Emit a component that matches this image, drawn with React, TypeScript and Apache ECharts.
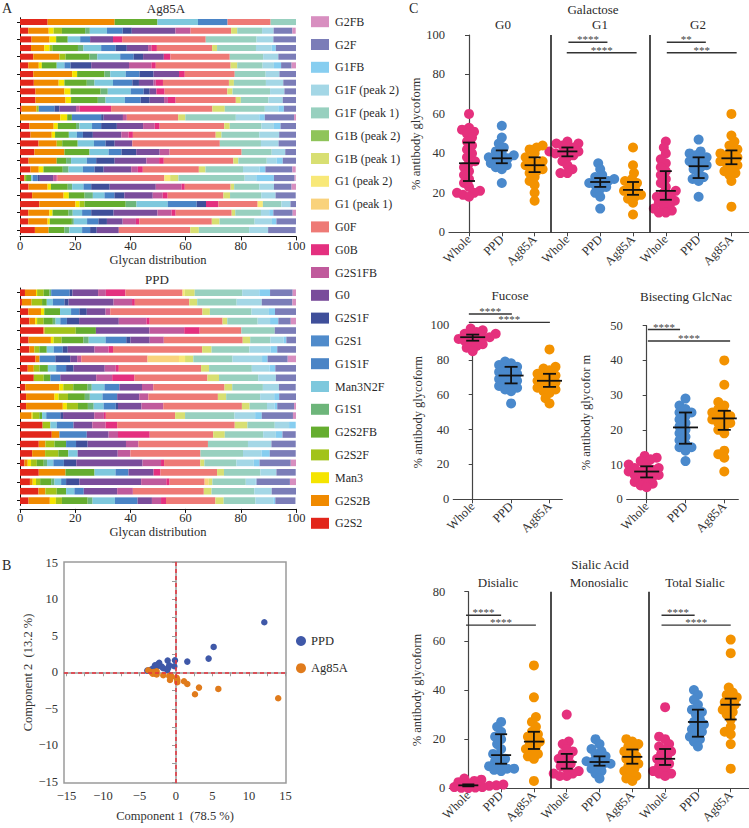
import React, { useEffect, useRef } from "react";
import * as echarts from "echarts";

const FONT = "'Liberation Serif', 'DejaVu Serif', serif";

// ---------- Panel A data ----------
const glycans = [
  "G2S2", "G2S2B", "Man3", "G2S2F", "G2S2FB", "G1S1", "Man3N2F", "G1S1F", "G2S1", "G2S1F",
  "G0", "G2S1FB", "G0B", "G0F", "G1 (peak 1)", "G1 (peak 2)", "G1B (peak 1)", "G1B (peak 2)",
  "G1F (peak 1)", "G1F (peak 2)", "G1FB", "G2F", "G2FB",
];
const glycanColors = [
  "#e2261b", "#f08a00", "#f5e400", "#a2c31a", "#65ad2f", "#6db57a", "#7ec8dd", "#4a84c6", "#4f8bcb", "#3f4f9a",
  "#7a4d9b", "#c05a9c", "#e4307f", "#ee7a76", "#f9d27c", "#f8e878", "#d8df72", "#8fc45a",
  "#98d0bf", "#a4d7e6", "#87cef0", "#7b7db8", "#d88fc0",
];

const ag85aBars: number[][] = [
  [10, 24.3, 0, 0, 15.5, 0, 14.7, 10.7, 0, 0, 0, 0, 0, 15.6, 0, 0, 0, 0, 9.2, 0, 0, 0, 0],
  [3, 7.4, 1.8, 3, 8.4, 1.7, 6.2, 5.7, 0, 3.3, 15.8, 5.5, 0, 14.7, 0, 0, 2.2, 0, 9, 4.2, 0, 6.8, 1.2],
  [4.2, 6.5, 2.4, 0, 4.2, 0, 4.5, 3.6, 0, 0, 8.3, 0, 3.3, 30.3, 0, 0, 0, 0, 18.4, 6.1, 0, 8.2, 0],
  [4, 4.8, 1.9, 1, 9.3, 2, 6.4, 5.2, 0, 4.1, 7.7, 1.2, 2, 20, 0, 0, 1.8, 0, 14.1, 5.7, 1.5, 7.3, 0],
  [4.8, 9.5, 0, 2.2, 8.7, 2.8, 8.3, 4.9, 0, 3.4, 7.5, 0, 2.4, 21.5, 0, 0, 0, 0, 12.1, 5.5, 0, 6.4, 0],
  [3, 3.8, 1.1, 0, 5.4, 0, 2.8, 2.2, 0, 7.5, 13.7, 8.1, 1.6, 27.1, 0, 0, 2.4, 0, 9.2, 4.1, 2.6, 3.8, 1.6],
  [4.8, 14.1, 1.8, 0, 9.9, 2.1, 5.6, 5, 0, 5.1, 9.2, 0, 2.1, 18.1, 0, 0, 0, 0, 11.2, 5, 0, 6, 0],
  [5, 9, 2.1, 0, 8.1, 2.8, 6.7, 7, 0, 2.4, 5.3, 0.8, 2.6, 23.9, 0, 0, 1.8, 0, 11.6, 6.3, 0, 4.6, 0],
  [5.6, 10.5, 2.2, 0, 10.9, 2.6, 8.3, 4.7, 0, 2.2, 2.4, 0, 3, 22.7, 0, 0, 1.9, 0, 13.6, 5.2, 0, 4.2, 0],
  [5.6, 10.9, 2, 0, 9.7, 2.8, 7, 5.7, 0, 3.3, 5.2, 1.4, 2.8, 21.8, 0, 0, 1.8, 0, 10, 5.2, 0, 4.8, 0],
  [0.6, 5.4, 0, 0.8, 0, 0, 0, 5.7, 0, 1.8, 6, 1.2, 11.5, 36.7, 0, 0, 4.5, 0, 14.5, 4.9, 2, 4.4, 0],
  [0, 14.6, 2.5, 0, 1.7, 0, 0, 10.6, 0, 0.9, 7, 1.4, 0, 18.6, 0, 0, 2.6, 0, 18.3, 8.5, 2, 10.6, 0.7],
  [3.4, 8.8, 1.5, 0, 6.6, 1.2, 4.6, 3.3, 0, 5.7, 9.5, 4.2, 1.8, 23.4, 0, 0, 2, 0, 11.5, 4.5, 2.4, 5.6, 0],
  [3.8, 7.7, 1.2, 0, 5, 0, 2.9, 2.2, 0, 3.6, 10.3, 2.6, 1.6, 30, 0, 0, 2.1, 0, 13.7, 7.2, 0, 6.1, 0],
  [6.7, 6.6, 0, 2, 5.6, 0, 5.9, 4.2, 0, 3.3, 6.4, 0, 0, 31.7, 0, 0, 0, 0, 14.9, 6.4, 0, 6.3, 0],
  [5.2, 10.9, 0, 0, 9.1, 0, 6.9, 4.7, 0, 5.3, 8.5, 3.6, 0, 26.1, 0, 0, 0, 0, 10.9, 4.9, 0, 3.9, 0],
  [3.1, 10.2, 0, 0, 3.4, 1.8, 5.7, 3.4, 0, 6.7, 11.5, 4.6, 1.7, 25.2, 0, 0, 1.8, 0, 10.3, 3.6, 2.2, 4.8, 0],
  [3.8, 3, 1.7, 0, 7, 2.1, 5.2, 4.2, 0, 3.3, 10, 2.4, 1.8, 20.3, 0, 0, 2.4, 0, 13.6, 6, 2.1, 9.8, 1.2],
  [1.6, 0, 0, 0.6, 1.8, 0, 0.6, 1.8, 0, 0.8, 4.8, 1.2, 0.4, 38.7, 0, 2.1, 3, 0, 24, 4.2, 6.4, 7.5, 0.4],
  [3.1, 6.9, 1.2, 0, 6.1, 1.6, 4.1, 2.8, 0, 6.7, 16.7, 9.3, 1.2, 16.6, 0, 0, 1.3, 0, 9.1, 5.3, 0, 6.4, 1.6],
  [4.4, 11.4, 1.9, 0, 5.7, 3, 4.2, 3.6, 0, 3.6, 10.3, 3.6, 1.8, 20.2, 0, 0, 2.4, 0, 11.3, 5.2, 0, 7.3, 0],
  [7, 13.1, 1.5, 1.8, 14.9, 3.9, 11.3, 10.5, 0, 3.4, 0, 0, 4.5, 14.2, 0, 1.9, 0, 0, 6.7, 3.3, 0, 2.2, 0],
  [3, 7.6, 1.2, 0, 5.8, 1.5, 3.4, 3.3, 0, 8.1, 15.9, 5.1, 1.5, 20.3, 0, 0, 1.3, 0, 9.3, 3, 1.5, 7, 1.2],
  [3, 7, 0.8, 0, 8, 0.7, 4.8, 4.1, 0, 3.1, 5.7, 4.8, 1.2, 26.3, 0, 0, 2.8, 0, 12.7, 6.3, 1.6, 7.1, 0],
  [5.4, 5, 0, 0, 5.7, 1.8, 4.6, 2.9, 0, 2.4, 8, 0, 0, 25.9, 0, 0, 3.1, 0, 18.2, 6.9, 0, 10, 0],
];

const ppdBars: number[][] = [
  [1.8, 4, 0.4, 2.4, 2.1, 0.6, 0, 6.7, 0, 1, 9.3, 2.8, 7.1, 20.7, 0, 0.8, 3.6, 0, 17.2, 6.2, 3.9, 8.2, 1.2],
  [0.7, 3.5, 0, 3.8, 1.7, 0, 2.2, 4.2, 0, 1.5, 16.3, 6.7, 1, 19.7, 0, 0, 2.9, 0, 14.3, 9.1, 0, 11.1, 1.3],
  [3, 4.6, 1.2, 0, 5.7, 0, 4, 3, 0, 2.7, 6.8, 1.7, 0, 33.4, 0, 0, 2.7, 0, 15.1, 6.3, 2.2, 7.6, 0],
  [3.4, 2.1, 0.7, 2.4, 3.3, 1, 1.7, 2.4, 0, 4.4, 14.4, 10, 1.2, 26.4, 0, 0, 1.7, 0, 11, 4.5, 3, 4.5, 1.9],
  [8.5, 0.4, 0, 11.3, 7.3, 0, 0, 0, 0, 0, 19.4, 12.6, 5.6, 15.1, 0, 0, 0, 0, 12.1, 0, 0, 7.9, 0],
  [3.1, 8.1, 1, 2.9, 7.9, 1.9, 6.1, 7.5, 0, 1.5, 7, 5.1, 0, 28.6, 0, 0, 2.7, 0, 7.3, 4.8, 1, 3.6, 0],
  [3.4, 1.8, 0, 1.8, 2.7, 0, 2.5, 3.3, 0, 1.8, 9.7, 5.1, 1.6, 32.3, 0, 0, 3.4, 0, 13.7, 7.7, 2.4, 6.8, 0],
  [5.6, 1.5, 0, 0, 0, 0, 0, 5.7, 0, 5.4, 2.5, 1.5, 0, 24, 11.4, 2.2, 3, 0, 14.2, 10.7, 2, 7.3, 3.1],
  [2.8, 2.2, 0, 2.1, 3, 0, 3, 3.6, 0, 2.7, 11.3, 4, 1.1, 29.8, 0, 0, 2.9, 0, 15.5, 6.4, 2.1, 7.6, 0],
  [5, 0, 0, 3.6, 2.4, 0, 0, 3.6, 0, 0, 13, 5.8, 8.1, 26.4, 0, 0, 4.2, 0, 14.2, 6.4, 0, 7.3, 0],
  [1.9, 12.3, 1.5, 3.6, 5.2, 1.5, 4.6, 5.4, 0, 0, 8.2, 4.1, 0, 25.8, 0, 0, 2.8, 0, 11.1, 5.8, 0, 6.1, 0],
  [2.2, 10.3, 1.5, 3.4, 6.1, 1.8, 4.6, 5.3, 0, 0, 8, 3.3, 0, 25.2, 0, 0, 3, 0, 12.3, 5.1, 1.8, 6.2, 0],
  [2.2, 13.3, 1.5, 4, 3.6, 2.1, 3.6, 4.4, 0, 0.8, 8.5, 7.9, 0, 28.5, 0, 0, 2.8, 0, 6.3, 2.7, 1, 6.1, 1],
  [0, 4.2, 0.4, 2.4, 1, 0, 1.5, 5.1, 0, 1, 11.3, 3.5, 0.7, 25.1, 0, 0, 3.6, 0, 17.9, 7.5, 2.4, 11.3, 1.2],
  [8.2, 0, 0, 2.8, 0, 0, 2.3, 6.1, 0, 0, 6.8, 4.8, 4.2, 42.6, 0, 0, 4.6, 0, 9.9, 5.2, 2.4, 0, 0],
  [11.5, 2.8, 0, 0, 0, 0, 0, 9.9, 0, 0, 7.9, 3.4, 11.5, 23, 0, 0, 4.2, 0, 13.9, 4.6, 2.4, 4.8, 0],
  [6.8, 2.4, 0, 3.3, 4.2, 0, 0, 3.6, 0, 4.2, 13.9, 4.5, 0, 25.2, 0, 0, 0, 0, 14.5, 8.5, 0, 8.8, 0],
  [4.4, 4.7, 0, 4.8, 3.6, 0, 3.4, 0, 0, 0, 14.5, 4.6, 0, 25.4, 0, 0, 0, 0, 15.4, 6.7, 3, 9.4, 0],
  [1.6, 1.2, 1.2, 2.1, 2.5, 1.2, 2.3, 3.8, 0, 4.5, 24, 6.7, 1.1, 13.1, 0, 0, 1.5, 0, 11.6, 6.3, 2.1, 11.3, 2.2],
  [6.8, 9.7, 0, 0, 10.5, 0, 7.6, 4.7, 0, 0, 9.1, 0, 2.5, 20.5, 0, 0, 2.5, 0, 13.2, 5.8, 0, 7, 0],
  [3.6, 1, 1.2, 1.5, 4, 1.2, 2.4, 1.8, 0, 4.8, 22.4, 9.1, 1.2, 12.7, 1.5, 0, 1.3, 0, 12.1, 3.6, 0.3, 12.1, 2.2],
  [6.7, 2.5, 0, 4.1, 3.4, 0, 3, 3.4, 0, 0, 12.1, 5.7, 0, 25.7, 0, 0, 2.8, 0, 15.5, 6.3, 0, 8.8, 0],
  [3.1, 7.7, 2.2, 2.2, 9.3, 1.8, 8.1, 8.2, 0, 0, 5.2, 3.3, 1.8, 17.9, 0, 0, 3, 0, 11.5, 6.5, 0.7, 7.3, 0],
];

// ---------- Panel B data ----------
const pcaPPD: number[][] = [
  [12.1, 6.85], [5.16, 3.47], [4.47, 1.87], [1.55, 1.46], [-0.14, 1.64], [-1.14, 1.6], [-0.23, 0.82],
  [-0.92, 0.96], [-2.3, 1.3], [-2.65, 0.77], [-1.74, 0.55], [-1.19, 0.32], [-1.96, 0.77], [-3.1, 0.55],
  [-3.56, 0.32], [-3.93, 0.23], [-2.88, 0.96], [-1.05, 0.64], [-2.5, 1.1], [-3.3, 0.4],
];
const pcaAg85A: number[][] = [
  [14.0, -3.56], [5.8, -2.28], [3.15, -2.1], [2.6, -3.0], [1.55, -1.6], [1.1, -1.23], [0.18, -1.05],
  [0.1, -0.75], [-0.82, -1.05], [-0.92, -0.5], [-1.74, -0.41], [0.18, -1.37], [-3.8, 0.27], [-3.33, 0.0],
  [-2.88, -0.18], [-2.65, 0.14], [-3.2, -0.18], [-0.59, -0.6], [-2.65, -0.3], [-3.0, 0.05],
];
const pcaTicks = [-15, -10, -5, 0, 5, 10, 15];
const pcaMinorTicks = [-15, -12.5, -10, -7.5, -5, -2.5, 0, 2.5, 5, 7.5, 10, 12.5, 15];

// ---------- Panel C data ----------
const groupNames = ["Whole", "PPD", "Ag85A"];

// Galactose: [G0, G1, G2] for each group
const galWhole = [
  [60, 53, 52, 51, 50, 48, 46, 44, 42, 40, 38, 36, 35, 33, 31, 29, 27, 25, 23, 21, 20, 20, 19, 18],
  [46, 45, 45, 44, 43, 42, 41, 41, 40, 40, 39, 38, 36, 34, 32, 30, 30],
  [46, 43, 40, 37, 35, 33, 31, 29, 27, 25, 23, 21, 20, 19, 18, 17, 16, 15, 14, 13, 12, 11, 10, 10],
];
const galPPD = [
  [54, 48, 45, 43, 41, 40, 39, 38, 37.5, 37, 36, 35, 34, 33, 32, 25],
  [35, 32, 29, 28, 27, 26, 26, 25, 24, 23, 22, 20, 18, 12],
  [47, 41, 40, 39, 38, 37, 36, 35, 34, 33, 32, 30, 28, 27, 26, 18],
];
const galAg85A = [
  [44, 43, 42, 40, 38, 37, 36, 35, 34, 33, 32, 31, 30, 28, 26, 24, 20, 16],
  [43, 34, 30, 27, 26, 25, 24, 22, 21, 20, 19, 18, 17, 15, 9],
  [60, 49, 46, 44, 42, 41, 40, 39, 38, 37, 36, 35, 34, 33, 31, 30, 29, 26, 13],
];
// [median, q1, q3] per subpanel per group
const galStats = [
  [[35, 26, 45.5], [37.5, 35, 41.5], [34, 30.5, 38]],
  [[41, 38.5, 43], [25.5, 23, 27.5], [21.5, 19, 25.5]],
  [[21, 16.5, 31], [33.5, 27.5, 38], [37.5, 34.5, 41.5]],
];
const galSig = [[3.03, 4.22, 96.3], [2.98, 5.11, 91], [6.03, 7.22, 96.3], [6.03, 8.16, 91]];
const galSigLabels = ["****", "****", "**", "***"];

const fucWhole = [98, 97, 96, 95, 95, 94, 94, 93, 93, 92, 92, 91, 90, 89, 88, 87, 85];
const fucPPD = [79, 78, 77, 76, 75, 74, 73, 72, 71, 70, 69, 68, 67, 66, 65, 64, 63, 62, 55];
const fucAg85A = [86, 76, 75, 74, 72, 71, 70, 69, 68, 67, 66, 65, 64, 63, 62, 61, 58, 55];
const fucStats = [[93, 91, 94.5], [71, 66.5, 76], [68, 64.5, 72]];
const fucSig = [[-0.1, 1.02, 106.3], [-0.1, 2.01, 101.5]];
const fucSigLabels = ["****", "****"];

const bisWhole = [12.5, 12, 11.5, 11, 10, 10, 9, 9, 8.5, 8, 8, 7.5, 7, 7, 6.5, 6, 5.5, 5, 4.5, 4, 3.5];
const bisPPD = [29, 27, 26, 25, 25, 24, 23, 22, 21, 20, 19, 18, 17, 16, 15, 15, 14, 11];
const bisAg85A = [40, 33, 28, 27, 26, 25, 25, 24, 24, 23, 23, 22, 22, 21, 20, 19, 14, 13, 12, 8];
const bisStats = [[8, 6.3, 9.5], [20.7, 16, 25], [23.3, 20, 25.5]];
const bisSig = [[0.03, 0.86, 48.9], [0.03, 2.15, 45.6]];
const bisSigLabels = ["****", "****"];

// Sialic: [Disialic, Monosialic, Total]
const siaWhole = [
  [4, 3.5, 3, 2.5, 2, 2, 1.5, 1.5, 1.2, 1, 1, 0.8, 0.5, 0.5, 0.3, 0.2, 0.1],
  [30, 19, 18, 16, 15, 14, 13, 12, 11, 10, 9, 8, 7, 6, 6, 5, 5],
  [33, 21, 20, 18, 17, 16, 15, 14, 13, 12, 11, 10, 9, 8, 7, 6, 6, 5],
];
const siaPPD = [
  [27, 25, 23, 21, 20, 18, 16, 14, 13, 12, 11, 10, 9, 8, 8, 7.5, 7],
  [20, 18, 16, 15, 14, 13, 12, 11, 11, 10, 10, 9, 8, 7, 6, 4],
  [40, 38, 36, 34, 32, 31, 30, 28, 27, 26, 25, 24, 23, 22, 21, 20, 19, 17],
];
const siaAg85A = [
  [50, 37, 29, 27, 25, 23, 22, 21, 20, 19, 18, 17, 16, 15, 14, 13, 12, 3],
  [20, 19, 18, 17, 16, 15, 14, 13, 12, 11, 10, 9, 8, 7, 6, 5, 4, 3],
  [60.5, 55, 41, 39, 38, 37, 36, 35, 34, 33, 32, 31, 30, 28, 25, 23, 22, 18, 8],
];
const siaStats = [
  [[1.2, 0.8, 1.6], [13.5, 10, 22], [19, 16, 23]],
  [[10.7, 8, 14], [10.7, 9.2, 13], [12.8, 10, 15.8]],
  [[12, 9.5, 16], [27, 21, 32], [34, 28, 36.5]],
];
const siaSig = [[-0.07, 1.0, 70.4], [-0.07, 2.06, 66.4], [5.89, 6.9, 70.4], [5.89, 8.0, 66.4]];
const siaSigLabels = ["****", "****", "****", "****"];

// ---------- layout ----------
const G = {
  ag: { left: 20, top: 17.7, width: 276, height: 216.7 },
  ppd: { left: 20, top: 288, width: 276, height: 217.4 },
  pca: { left: 64, top: 562, width: 222, height: 221 },
  gal: { left: 449, top: 35, width: 300, height: 197.3 },
  fuc: { left: 453.3, top: 325, width: 109, height: 174.3 },
  bis: { left: 626.7, top: 325.7, width: 111.6, height: 173.6 },
  sia: { left: 449.3, top: 591.7, width: 299.7, height: 196.6 },
};
const XR = {
  gal: [-0.61, 8.536],
  fuc: [-0.505, 2.333],
  bis: [-0.515, 2.361],
  sia: [-0.58, 8.557],
};
const YR = { gal: 100, fuc: 100, bis: 50, sia: 80 };

const COLORS_C = ["#e5307d", "#4a89cc", "#f39200"];
const TXT = "#2a2a2a";

function swarmOffsets(values: number[], pxY: number, minD: number): number[] {
  const order = values.map((_, i) => i).sort((a, b) => values[a] - values[b]);
  const placed: { x: number; y: number }[] = [];
  const out = new Array(values.length).fill(0);
  order.forEach((i) => {
    const y = values[i] * pxY;
    let chosen = 0;
    for (let k = 0; k < 80; k++) {
      const c = (k % 2 === 0 ? 1 : -1) * Math.ceil(k / 2) * 1;
      if (placed.every((p) => (p.x - c) ** 2 + (p.y - y) ** 2 >= minD * minD)) {
        chosen = c;
        break;
      }
    }
    placed.push({ x: chosen, y });
    out[i] = chosen;
  });
  return out;
}

function range(n: number) {
  return Array.from({ length: n }, (_, i) => i);
}

export default function App() {
  const ref = useRef<HTMLDivElement>(null);

  useEffect(() => {
    if (!ref.current) return;
    const chart = echarts.init(ref.current, undefined, { renderer: "svg" });

    const grids = [
      G.ag, G.ppd,
      { ...G.pca, show: true, borderColor: "#9a9a9a", borderWidth: 1.5, backgroundColor: "transparent" },
      G.gal, G.fuc, G.bis, G.sia,
    ];

    const barX = (gi: number, offset: number) => ({
      gridIndex: gi, type: "value", min: 0, max: 100, interval: 20, offset,
      axisLine: { show: true, lineStyle: { color: "#111", width: 1 } },
      axisTick: { show: true, length: 4, lineStyle: { color: "#111" } },
      axisLabel: { fontSize: 12.5, color: TXT, margin: 3, fontFamily: FONT },
      splitLine: { show: false },
      name: "Glycan distribution", nameLocation: "middle", nameGap: 17,
      nameTextStyle: { fontSize: 12.5, color: TXT, fontFamily: FONT },
    });
    const barY = (gi: number, n: number) => ({
      gridIndex: gi, type: "category", inverse: true, data: range(n).map((i) => String(i + 1)),
      axisLine: { show: true, lineStyle: { color: "#111" } },
      axisTick: { show: true, alignWithLabel: true, length: 3, lineStyle: { color: "#111" } },
      axisLabel: { show: false },
    });

    const minusFmt = (v: number) => (v < 0 ? "\u2212" + Math.abs(v) : String(v));

    const cX = (gi: number, r: number[], n: number) => ({
      gridIndex: gi, type: "value", min: r[0], max: r[1],
      axisLine: { show: true, lineStyle: { color: "#444", width: 1.2 } },
      axisTick: { show: true, customValues: range(n), length: 4, lineStyle: { color: "#444" } },
      axisLabel: {
        customValues: range(n), rotate: 45, fontSize: 12.5, color: "#333", margin: 5, fontFamily: FONT,
        formatter: (v: number) => groupNames[Math.round(v) % 3],
      },
      splitLine: { show: false },
    });
    const cY = (gi: number, max: number, interval: number, name: string, gap: number) => ({
      gridIndex: gi, type: "value", min: 0, max, interval,
      axisLine: { show: true, lineStyle: { color: "#444", width: 1.2 } },
      axisTick: { show: true, length: 4, lineStyle: { color: "#444" } },
      axisLabel: { fontSize: 12.5, color: "#333", margin: 4, fontFamily: FONT },
      splitLine: { show: false },
      name, nameLocation: "middle", nameRotate: 90, nameGap: gap,
      nameTextStyle: { fontSize: 12.5, color: "#333", fontFamily: FONT },
    });

    const xAxis = [
      barX(0, 2),
      barX(1, 3.5),
      {
        gridIndex: 2, type: "value", min: -15.34, max: 15.07,
        axisLine: { show: true, lineStyle: { color: "#9a9a9a", width: 1.5 } },
        axisTick: { show: true, customValues: pcaMinorTicks, length: 4, lineStyle: { color: "#9a9a9a" } },
        axisLabel: { customValues: pcaTicks, formatter: minusFmt, fontSize: 12.5, color: "#333", margin: 6, fontFamily: FONT },
        splitLine: { show: false },
        name: "Component 1  (78.5 %)", nameLocation: "middle", nameGap: 26,
        nameTextStyle: { fontSize: 12.5, color: "#333", fontFamily: FONT },
      },
      cX(3, XR.gal, 9),
      cX(4, XR.fuc, 3),
      cX(5, XR.bis, 3),
      cX(6, XR.sia, 9),
    ];
    const yAxis = [
      barY(0, ag85aBars.length),
      barY(1, ppdBars.length),
      {
        gridIndex: 2, type: "value", min: -15.16, max: 15.1,
        axisLine: { show: true, lineStyle: { color: "#9a9a9a", width: 1.5 } },
        axisTick: { show: true, customValues: pcaMinorTicks, length: 4, lineStyle: { color: "#9a9a9a" } },
        axisLabel: { customValues: pcaTicks, formatter: minusFmt, fontSize: 12.5, color: "#333", margin: 6, fontFamily: FONT },
        splitLine: { show: false },
        name: "Component 2  (13.2 %)", nameLocation: "middle", nameRotate: 90, nameGap: 29,
        nameTextStyle: { fontSize: 12.5, color: "#333", fontFamily: FONT },
      },
      cY(3, YR.gal, 20, "% antibody glycoform", 23),
      cY(4, YR.fuc, 20, "% antibody glycoform", 29),
      cY(5, YR.bis, 10, "% antibody glycofor m", 34),
      cY(6, YR.sia, 20, "% antibody glycoform", 26),
    ];

    const series: any[] = [];

    glycans.forEach((g, i) => {
      series.push({
        type: "bar", name: g, xAxisIndex: 0, yAxisIndex: 0, stack: "ag", barWidth: "70%",
        data: ag85aBars.map((r) => r[i]), itemStyle: { color: glycanColors[i] }, silent: true,
      });
      series.push({
        type: "bar", name: g, xAxisIndex: 1, yAxisIndex: 1, stack: "ppd", barWidth: "70%",
        data: ppdBars.map((r) => r[i]), itemStyle: { color: glycanColors[i] }, silent: true,
      });
    });

    series.push({
      type: "scatter", name: "PPD", xAxisIndex: 2, yAxisIndex: 2, data: pcaPPD, symbolSize: 6.5,
      itemStyle: { color: "#3f58a8", opacity: 1 }, z: 4, silent: true,
      markLine: {
        silent: true, symbol: "none", label: { show: false }, animation: false,
        lineStyle: { color: "#e8323c", type: [4, 3], width: 1.5 },
        data: [{ xAxis: 0 }, { yAxis: 0 }],
      },
    });
    series.push({
      type: "scatter", name: "Ag85A", xAxisIndex: 2, yAxisIndex: 2, data: pcaAg85A, symbolSize: 6.5,
      itemStyle: { color: "#e07b1c", opacity: 1 }, z: 4, silent: true,
    });

    // panel C builders
    const addSwarm = (gi: number, key: string, groups: number[][][], pxY: number, pxX: number, dividers: boolean) => {
      groups.forEach((perSub, gIdx) => {
        const data: number[][] = [];
        perSub.forEach((vals, s) => {
          const offs = swarmOffsets(vals, pxY, 6.2);
          vals.forEach((v, k) => data.push([s * 3 + gIdx + offs[k] / pxX, v]));
        });
        const ser: any = {
          type: "scatter", name: `${key}-${groupNames[gIdx]}-c`, xAxisIndex: gi, yAxisIndex: gi, data,
          symbolSize: 10, itemStyle: { color: COLORS_C[gIdx], opacity: 1 }, z: 3, silent: true,
        };
        if (dividers && gIdx === 0) {
          ser.markLine = {
            silent: true, symbol: "none", label: { show: false }, animation: false,
            lineStyle: { color: "#111", type: "solid", width: 1.5 },
            data: [{ xAxis: 2.5 }, { xAxis: 5.5 }],
          };
        }
        series.push(ser);
      });
    };

    const addErr = (gi: number, stats: number[][][], capHalf: number, medHalf: number) => {
      const rows: number[][] = [];
      stats.forEach((sub, s) => sub.forEach((st, gIdx) => rows.push([s * 3 + gIdx, st[0], st[1], st[2]])));
      series.push({
        type: "custom", xAxisIndex: gi, yAxisIndex: gi, z: 6, silent: true, clip: false,
        encode: { x: 0, y: [1, 2, 3] }, data: rows,
        renderItem: (_p: any, api: any) => {
          const x = api.value(0);
          const m = api.coord([x, api.value(1)]);
          const l = api.coord([x, api.value(2)]);
          const h = api.coord([x, api.value(3)]);
          const st = { stroke: "#111", lineWidth: 1.8, fill: null };
          return {
            type: "group",
            children: [
              { type: "line", shape: { x1: m[0], y1: l[1], x2: m[0], y2: h[1] }, style: st },
              { type: "line", shape: { x1: m[0] - capHalf, y1: l[1], x2: m[0] + capHalf, y2: l[1] }, style: st },
              { type: "line", shape: { x1: m[0] - capHalf, y1: h[1], x2: m[0] + capHalf, y2: h[1] }, style: st },
              { type: "line", shape: { x1: m[0] - medHalf, y1: m[1], x2: m[0] + medHalf, y2: m[1] }, style: st },
            ],
          };
        },
      });
    };

    const addSig = (gi: number, rows: number[][], labels: string[]) => {
      series.push({
        type: "custom", xAxisIndex: gi, yAxisIndex: gi, z: 7, silent: true, clip: false,
        encode: { x: [0, 1], y: 2 }, data: rows,
        renderItem: (p: any, api: any) => {
          const a = api.coord([api.value(0), api.value(2)]);
          const b = api.coord([api.value(1), api.value(2)]);
          return {
            type: "group",
            children: [
              { type: "line", shape: { x1: a[0], y1: a[1], x2: b[0], y2: b[1] }, style: { stroke: "#333", lineWidth: 1.4 } },
              {
                type: "text", x: (a[0] + b[0]) / 2, y: a[1] - 3,
                style: {
                  text: labels[p.dataIndex], fontSize: 11, fill: "#444", fontFamily: FONT,
                  align: "center", verticalAlign: "middle", textAlign: "center", textVerticalAlign: "middle",
                },
              },
            ],
          };
        },
      });
    };

    const pxPerX = (k: "gal" | "fuc" | "bis" | "sia") => (G as any)[k].width / (XR[k][1] - XR[k][0]);
    const pxPerY = (k: "gal" | "fuc" | "bis" | "sia") => (G as any)[k].height / YR[k];

    addSwarm(3, "gal", [galWhole, galPPD, galAg85A], pxPerY("gal"), pxPerX("gal"), true);
    addErr(3, galStats, 6, 10);
    addSig(3, galSig, galSigLabels);

    addSwarm(4, "fuc", [[fucWhole], [fucPPD], [fucAg85A]], pxPerY("fuc"), pxPerX("fuc"), false);
    addErr(4, [fucStats], 6.5, 12.5);
    addSig(4, fucSig, fucSigLabels);

    addSwarm(5, "bis", [[bisWhole], [bisPPD], [bisAg85A]], pxPerY("bis"), pxPerX("bis"), false);
    addErr(5, [bisStats], 6.5, 12.5);
    addSig(5, bisSig, bisSigLabels);

    addSwarm(6, "sia", [siaWhole, siaPPD, siaAg85A], pxPerY("sia"), pxPerX("sia"), true);
    addErr(6, siaStats, 6, 10);
    addSig(6, siaSig, siaSigLabels);

    const t = (x: number, y: number, text: string, size = 13, align = "center") => ({
      type: "text", x, y, silent: true,
      style: {
        text, fontSize: size, fill: TXT, fontFamily: FONT,
        align, verticalAlign: "middle", textAlign: align, textVerticalAlign: "middle",
      },
    });

    const option: any = {
      animation: false,
      backgroundColor: "#ffffff",
      textStyle: { fontFamily: FONT },
      grid: grids,
      xAxis,
      yAxis,
      legend: [
        {
          data: glycans.slice().reverse(), orient: "vertical", left: 311, top: 15.7, padding: 0,
          itemWidth: 18, itemHeight: 11, itemGap: 10.8, icon: "rect", selectedMode: false,
          textStyle: { fontSize: 12, color: TXT, fontFamily: FONT, padding: [0, 0, 0, 1] },
        },
        {
          data: ["PPD", "Ag85A"], orient: "vertical", left: 296, top: 634.5, padding: 0,
          itemWidth: 10, itemHeight: 10, itemGap: 14.2, icon: "circle", selectedMode: false,
          textStyle: { fontSize: 12.5, color: TXT, fontFamily: FONT },
        },
      ],
      graphic: [
        t(2, 8, "A", 14, "left"),
        t(166, 8.5, "Ag85A"),
        t(157, 279, "PPD"),
        t(2, 565, "B", 14, "left"),
        t(409, 8, "C", 14, "left"),
        t(593, 9, "Galactose"),
        t(503, 24, "G0"),
        t(600, 24, "G1"),
        t(698, 24, "G2"),
        t(510, 295, "Fucose"),
        t(686, 296, "Bisecting GlcNac"),
        t(600, 564, "Sialic Acid"),
        t(498, 582, "Disialic"),
        t(599, 582, "Monosialic"),
        t(695, 582, "Total Sialic"),
      ],
      series,
    };

    chart.setOption(option);
    return () => {
      chart.dispose();
    };
  }, []);

  return (
    <div
      ref={ref}
      style={{ position: "absolute", left: 0, top: 0, width: 749, height: 828, background: "#fff" }}
    />
  );
}
